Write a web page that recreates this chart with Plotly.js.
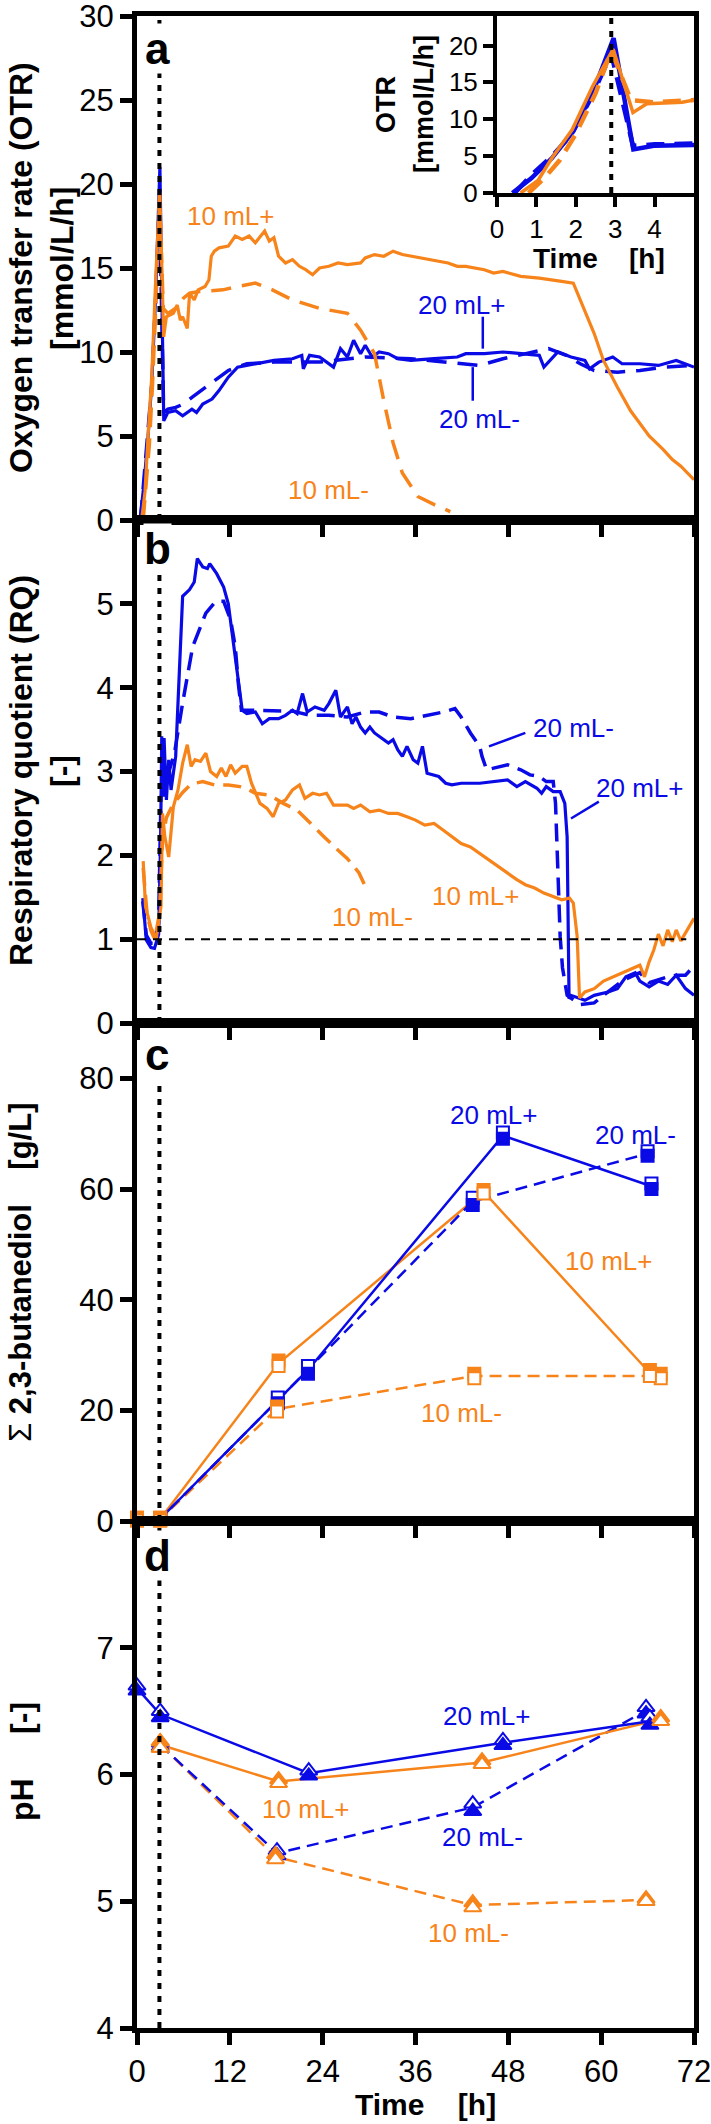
<!DOCTYPE html>
<html><head><meta charset="utf-8">
<script src="https://cdn.plot.ly/plotly-3.0.1.min.js"></script>
<style>html,body{margin:0;padding:0;background:#fff;}#chart{width:711px;height:2124px;}</style>
</head><body><div id="chart"></div>
<script>
// ---------- DATA ----------
const timeTicks = [0, 12, 24, 36, 48, 60, 72];
const insetTimeTicks = [0, 1, 2, 3, 4];

// (a) OTR [mmol/L/h]
const otr10pT = [0.6,1.04,1.39,1.91,2.43,2.95,3.45,3.8,4.7,5.2,5.6,5.9,6.5,6.8,7.4,7.9,8.8,9.3,9.6,10.0,10.6,11.8,12.7,13.6,14.5,15.3,16.5,17.1,17.7,18.3,19.2,20.1,21.0,21.8,22.7,23.6,24.8,26.0,27.2,28.9,29.5,30.7,31.9,33.1,34.3,35.4,37.8,40.2,41.4,42.5,44.9,46.1,47.3,49.6,52.0,53.2,54.9,56.4,57.3,59.1,60.3,62.1,63.8,66.2,68.0,69.2,70.3,72];
const otr10pV = [0,1.7,4.7,8.6,14.5,19.5,10.9,12.1,12.3,12.8,11.9,12.1,11.4,13.5,13.1,13.7,13.9,14.3,15.7,16.0,16.2,16.3,16.9,16.7,16.9,16.5,17.2,16.6,16.8,15.7,15.3,15.5,15.1,14.9,14.6,15.0,15.1,15.3,15.2,15.3,15.6,15.8,15.7,16.0,15.8,15.7,15.5,15.3,15.1,15.1,14.9,14.7,14.8,14.5,14.4,14.3,14.2,14.1,13.1,11.1,9.5,7.9,6.5,5.0,4.2,3.6,3.2,2.4];
const otr10mT = [0.8,1.2,1.6,2.0,2.5,2.9,3.4,4.0,5.0,6.0,6.8,8.0,11.1,13.0,15.3,17.5,20.1,23.6,27.2,28.9,30.7,31.9,33.1,34.3,36.3,38.5,40.5];
const otr10mV = [0,2.0,4.5,8.0,13.5,19.3,12.6,12.3,12.6,13.2,13.5,13.6,13.7,13.9,14.1,13.7,13.1,12.6,12.3,11.3,9.9,7.1,4.6,2.8,1.4,0.9,0.5];
const otr20pT = [0.39,0.87,1.39,1.91,2.43,2.96,3.46,3.98,5.0,5.9,7.1,7.7,8.5,9.7,10.6,11.8,13.0,14.2,15.3,17.7,20.1,21.3,21.5,22.3,23.6,25.4,26.3,27.2,28.0,28.9,29.5,30.4,31.3,32.5,33.7,35.4,38.4,41.4,42.5,44.9,47.3,49.6,52.0,52.6,54.4,56.1,57.9,58.5,59.7,61.5,62.7,65.0,67.4,69.7,70.9,72];
const otr20pV = [0,2.0,4.7,8.2,13.6,21.0,5.9,6.4,6.5,6.2,6.6,6.4,6.9,7.2,7.7,8.5,9.1,9.2,9.3,9.5,9.6,9.8,9.0,9.8,9.7,9.1,10.2,9.7,10.7,9.9,10.4,9.7,10.0,9.9,9.6,9.5,9.6,9.7,9.9,9.9,10.0,9.9,9.8,9.1,10.0,9.7,9.5,9.0,9.4,9.7,9.3,9.3,9.2,9.5,9.3,9.1];
const otr20mT = [0.45,0.9,1.4,1.9,2.4,2.9,3.45,4.0,5.0,6.0,7.1,9.4,11.8,14.2,17.7,23.6,29.5,35.4,41.4,44.3,47.3,50.2,53.2,55.5,57.3,59.1,62.1,65.0,68.0,72];
const otr20mV = [0,2.6,5.0,8.0,13.0,18.9,6.4,6.6,6.7,6.9,7.3,8.1,8.9,9.3,9.4,9.4,9.7,9.6,9.3,9.2,9.6,9.9,10.2,9.8,9.3,8.9,8.8,8.9,9.1,9.2];

// (b) RQ [-]
const rq20pT = [0.75,1.2,1.8,2.26,2.8,3.05,3.2,3.4,3.5,3.8,4.1,4.4,5.0,5.9,6.8,7.4,7.8,8.5,9.1,9.4,10.3,11.2,11.8,12.4,13.0,13.6,14.2,15.3,16.2,17.1,18.3,19.2,20.1,20.7,21.4,22.0,23.0,24.2,24.8,25.7,26.3,27.2,27.8,28.3,28.9,29.5,30.1,30.7,31.6,32.5,33.1,33.7,34.3,34.9,35.7,36.3,36.9,37.5,39.0,39.9,40.7,41.9,44.3,46.1,47.9,49.1,50.2,51.7,52.3,52.9,53.8,54.7,55.3,55.6,55.75,55.85,56.1,57.9,59.1,60.9,62.1,63.2,64.4,65.0,66.2,67.4,68.6,69.7,70.9,72];
const rq20pV = [1.49,0.99,0.9,0.89,1.06,2.2,3.42,2.7,3.4,2.66,3.14,2.78,3.18,5.09,5.17,5.26,5.54,5.44,5.42,5.48,5.36,5.2,5.0,4.57,4.13,3.73,3.69,3.71,3.57,3.63,3.63,3.67,3.73,3.69,3.93,3.71,3.77,3.73,3.81,3.97,3.65,3.77,3.57,3.65,3.53,3.46,3.53,3.46,3.40,3.34,3.38,3.26,3.18,3.30,3.14,3.10,3.30,2.98,2.94,2.86,2.84,2.86,2.86,2.88,2.90,2.82,2.88,2.80,2.74,2.82,2.76,2.76,2.62,2.22,1.03,0.29,0.33,0.27,0.33,0.37,0.41,0.55,0.6,0.5,0.43,0.5,0.46,0.57,0.41,0.33];
const rq20mT = [0.75,1.2,1.8,2.3,2.8,3.1,3.4,3.8,4.85,5.9,7.2,8.9,10.2,11.2,12.1,12.7,13.1,13.5,15.3,17.7,20.1,22.4,24.8,27.2,29.5,31.3,33.1,35.4,37.8,39.6,41.1,41.9,43.1,44.3,44.6,45.2,46.1,47.9,49.6,50.8,52.0,52.9,53.8,54.1,54.4,54.7,55.0,55.6,57.3,59.1,60.3,61.5,62.7,63.8,65.0,66.2,67.4,68.6,69.7,70.9,72];
const rq20mV = [1.45,1.05,0.95,0.95,1.2,2.7,2.75,2.9,3.22,3.82,4.49,4.89,5.03,5.03,4.81,4.49,4.05,3.73,3.73,3.73,3.72,3.67,3.67,3.65,3.71,3.71,3.65,3.63,3.67,3.71,3.75,3.65,3.46,3.30,3.18,3.02,3.04,3.08,3.02,2.96,2.94,2.88,2.88,2.62,1.83,1.03,0.66,0.33,0.22,0.24,0.33,0.42,0.5,0.55,0.6,0.48,0.52,0.55,0.57,0.57,0.68];
const rq10pT = [0.8,1.1,1.8,2.5,3.1,3.3,3.6,4.1,4.7,5.3,5.9,6.5,7.0,7.5,8.2,8.9,9.5,10.3,10.9,11.5,12.1,12.7,13.6,14.2,14.8,15.9,16.8,17.6,18.3,19.2,20.1,21.0,21.7,22.7,23.6,24.5,25.4,27.2,28.0,28.9,30.1,31.3,32.5,33.7,34.9,36.0,37.2,38.4,39.6,40.7,41.9,43.1,44.3,45.5,46.7,47.9,49.1,50.2,51.4,52.6,53.8,54.9,55.9,56.4,56.9,57.2,57.9,59.1,60.3,61.5,62.7,63.8,65.0,65.6,66.2,66.8,67.4,68.0,68.6,69.2,69.7,70.3,71.2,72];
const rq10pV = [1.93,1.39,1.14,1.01,1.39,2.5,2.22,1.98,2.58,2.78,3.10,3.32,3.06,3.14,3.12,3.22,3.00,2.94,3.04,2.94,3.08,2.98,3.06,3.06,2.86,2.62,2.56,2.46,2.62,2.66,2.78,2.84,2.68,2.74,2.72,2.74,2.60,2.60,2.56,2.60,2.52,2.54,2.50,2.50,2.46,2.42,2.36,2.38,2.30,2.22,2.14,2.10,2.02,1.94,1.86,1.79,1.71,1.65,1.61,1.55,1.51,1.47,1.49,1.43,1.03,0.30,0.37,0.41,0.50,0.55,0.60,0.64,0.69,0.55,0.73,0.87,1.06,0.92,1.11,0.97,1.11,0.98,1.12,1.25];
const rq10mT = [0.8,1.3,1.8,2.3,2.9,3.3,3.8,4.6,5.9,7.0,8.5,10.0,11.8,13.3,14.5,15.3,17.1,18.9,20.7,22.4,24.2,26.0,27.2,28.7,29.5];
const rq10mV = [1.85,1.3,1.1,1.0,1.3,2.2,2.45,2.6,2.75,2.85,2.88,2.84,2.84,2.82,2.78,2.74,2.72,2.62,2.54,2.38,2.22,2.06,1.96,1.79,1.63];

// (c) sum 2,3-butanediol [g/L]  (two markers per sample: open / filled)
const bdo20pT = [0, 3, 22.1, 47.3, 66.5];
const bdo20pOpen = [0.3, 0.5, 28.0, 70.2, 61.0];
const bdo20pFill = [0.2, 0.3, 26.6, 69.1, 60.0];
const bdo20mT = [0, 3, 18.2, 43.4, 66.0];
const bdo20mOpen = [0.3, 0.5, 22.3, 58.4, 66.8];
const bdo20mFill = [0.2, 0.3, 21.3, 57.1, 66.0];
const bdo10pT = [0, 3, 18.3, 44.8, 66.3];
const bdo10pFill = [0.6, 0.6, 29.0, 59.8, 27.3];
const bdo10pOpen = [0.1, 0.1, 28.0, 59.2, 26.2];
const bdo10mT = [0, 3, 18.1, 43.6, 67.7];
const bdo10mFill = [0.6, 0.6, 20.7, 26.6, 26.6];
const bdo10mOpen = [0.1, 0.1, 19.8, 25.8, 25.8];

// (d) pH [-]
const ph20pT = [0, 3, 22.2, 47.3, 66.3];
const ph20pOpen = [6.70, 6.50, 6.03, 6.27, 6.45];
const ph20pFill = [6.66, 6.45, 5.99, 6.23, 6.39];
const ph20mT = [3, 18.1, 43.4, 65.8];
const ph20mOpen = [6.25, 5.40, 5.77, 6.53];
const ph20mFill = [6.22, 5.36, 5.71, 6.48];
const ph10pT = [3, 18.3, 44.6, 67.7];
const ph10pFill = [6.26, 5.96, 6.11, 6.45];
const ph10pOpen = [6.21, 5.93, 6.08, 6.42];
const ph10mT = [3, 17.9, 43.4, 65.8];
const ph10mFill = [6.26, 5.37, 4.99, 5.02];
const ph10mOpen = [6.21, 5.33, 4.95, 5.00];

const inductionTime = 2.9;

// ---------- STYLE / LAYOUT ----------
const BLUE = '#0a0ae6', ORANGE = '#f7841a';
const FONT = 'Liberation Sans, Arial, sans-serif';
const TICK_SIZE = 31, INSET_TICK = 26, LABEL_SIZE = 26;

const W = 711, H = 2124;
const M = {l: 137, r: 17, t: 16, b: 96};
const PW = W - M.l - M.r, PH = H - M.t - M.b;
const px = v => (v - M.l) / PW;
const py = v => (H - M.b - v) / PH;

const mean = (a, b) => a.map((v, i) => (v + b[i]) / 2);

const traces = [];
function addLine(x, y, xa, ya, color, dash, width) {
  traces.push({x, y, xaxis: xa, yaxis: ya, type: 'scatter', mode: 'lines',
    line: {color, width, dash: dash || 'solid'}, hoverinfo: 'skip', showlegend: false});
}
function addMarkers(x, y, xa, ya, color, symbol, open, size) {
  traces.push({x, y, xaxis: xa, yaxis: ya, type: 'scatter', mode: 'markers', cliponaxis: false,
    marker: {symbol, size, color: open ? '#ffffff' : color, line: {color, width: 2}},
    hoverinfo: 'skip', showlegend: false});
}

// panel a (main) + inset
const dA = '20px,11px', dB = '18px,9px', dC = '12px,7px';
addLine(otr20mT, otr20mV, 'x', 'y', BLUE, dA, 3.5);
addLine(otr20pT, otr20pV, 'x', 'y', BLUE, 'solid', 3.2);
addLine(otr10mT, otr10mV, 'x', 'y', ORANGE, dA, 3.5);
addLine(otr10pT, otr10pV, 'x', 'y', ORANGE, 'solid', 3.2);
addLine(otr20mT, otr20mV, 'x5', 'y5', BLUE, '18px,10px', 4.5);
addLine(otr20pT, otr20pV, 'x5', 'y5', BLUE, 'solid', 4.5);
addLine(otr10mT, otr10mV, 'x5', 'y5', ORANGE, '18px,10px', 4.5);
addLine(otr10pT, otr10pV, 'x5', 'y5', ORANGE, 'solid', 3.5);

// panel b
addLine(rq20mT, rq20mV, 'x2', 'y2', BLUE, dB, 3.5);
addLine(rq20pT, rq20pV, 'x2', 'y2', BLUE, 'solid', 3.2);
addLine(rq10mT, rq10mV, 'x2', 'y2', ORANGE, dB, 3.5);
addLine(rq10pT, rq10pV, 'x2', 'y2', ORANGE, 'solid', 3.2);

// panel c
addLine(bdo10mT, mean(bdo10mFill, bdo10mOpen), 'x3', 'y3', ORANGE, dC, 2.5);
addLine(bdo10pT, mean(bdo10pFill, bdo10pOpen), 'x3', 'y3', ORANGE, 'solid', 2.5);
addLine(bdo20mT, mean(bdo20mFill, bdo20mOpen), 'x3', 'y3', BLUE, dC, 2.5);
addLine(bdo20pT, mean(bdo20pFill, bdo20pOpen), 'x3', 'y3', BLUE, 'solid', 2.5);
addMarkers(bdo20mT, bdo20mOpen, 'x3', 'y3', BLUE, 'square', true, 12);
addMarkers(bdo20mT, bdo20mFill, 'x3', 'y3', BLUE, 'square', false, 12);
addMarkers(bdo20pT, bdo20pOpen, 'x3', 'y3', BLUE, 'square', true, 12);
addMarkers(bdo20pT, bdo20pFill, 'x3', 'y3', BLUE, 'square', false, 12);
addMarkers(bdo10mT, bdo10mFill, 'x3', 'y3', ORANGE, 'square', false, 12);
addMarkers(bdo10mT, bdo10mOpen, 'x3', 'y3', ORANGE, 'square', true, 12);
addMarkers(bdo10pT, bdo10pFill, 'x3', 'y3', ORANGE, 'square', false, 12);
addMarkers(bdo10pT, bdo10pOpen, 'x3', 'y3', ORANGE, 'square', true, 12);

// panel d
addLine(ph10mT, mean(ph10mFill, ph10mOpen), 'x4', 'y4', ORANGE, dC, 2.5);
addLine(ph20mT, mean(ph20mFill, ph20mOpen), 'x4', 'y4', BLUE, dC, 2.5);
addLine(ph10pT, mean(ph10pFill, ph10pOpen), 'x4', 'y4', ORANGE, 'solid', 2.5);
addLine(ph20pT, mean(ph20pFill, ph20pOpen), 'x4', 'y4', BLUE, 'solid', 2.5);
addMarkers(ph20mT, ph20mOpen, 'x4', 'y4', BLUE, 'triangle-up', true, 15);
addMarkers(ph20mT, ph20mFill, 'x4', 'y4', BLUE, 'triangle-up', false, 15);
addMarkers(ph20pT, ph20pOpen, 'x4', 'y4', BLUE, 'triangle-up', true, 15);
addMarkers(ph20pT, ph20pFill, 'x4', 'y4', BLUE, 'triangle-up', false, 15);
addMarkers(ph10mT, ph10mFill, 'x4', 'y4', ORANGE, 'triangle-up', false, 15);
addMarkers(ph10mT, ph10mOpen, 'x4', 'y4', ORANGE, 'triangle-up', true, 15);
addMarkers(ph10pT, ph10pFill, 'x4', 'y4', ORANGE, 'triangle-up', false, 15);
addMarkers(ph10pT, ph10pOpen, 'x4', 'y4', ORANGE, 'triangle-up', true, 15);

const doms = {a: [py(520), 1], b: [py(1023), py(520)], c: [py(1521), py(1023)], d: [0, py(1521)]};
const tickFont = {family: FONT, size: TICK_SIZE, color: '#000'};
const common = {ticks: 'outside', tickcolor: '#000', showline: true, linecolor: '#000', mirror: true,
  showgrid: false, zeroline: false, fixedrange: true, ticklabeloverflow: 'allow', tickmode: 'array'};
function xax(anchor, labels) {
  return Object.assign({}, common, {domain: [0, 1], anchor, range: [0, 72], tickvals: timeTicks,
    showticklabels: labels, ticklen: 12, tickwidth: 5, linewidth: 5, tickfont: tickFont});
}
function yax(anchor, dom, range, tv) {
  return Object.assign({}, common, {domain: dom, anchor, range, tickvals: tv,
    ticklen: 12, tickwidth: 5, linewidth: 5, tickfont: tickFont});
}

const layout = {
  width: W, height: H, margin: M, paper_bgcolor: '#fff', plot_bgcolor: '#fff', showlegend: false,
  font: {family: FONT, color: '#000'},
  xaxis: xax('y', false), yaxis: yax('x', doms.a, [0, 30], [0, 5, 10, 15, 20, 25, 30]),
  xaxis2: xax('y2', false), yaxis2: yax('x2', doms.b, [0, 6], [0, 1, 2, 3, 4, 5]),
  xaxis3: xax('y3', false), yaxis3: yax('x3', doms.c, [0, 90], [0, 20, 40, 60, 80]),
  xaxis4: xax('y4', true), yaxis4: yax('x4', doms.d, [4, 8], [4, 5, 6, 7]),
  xaxis5: Object.assign({}, common, {domain: [px(497), 1], anchor: 'y5', range: [0, 5], tickvals: insetTimeTicks,
    ticklen: 10, tickwidth: 4, linewidth: 4, tickfont: {family: FONT, size: INSET_TICK, color: '#000'}}),
  yaxis5: Object.assign({}, common, {domain: [py(193), 1], anchor: 'x5', range: [0, 24], tickvals: [0, 5, 10, 15, 20],
    ticklen: 10, tickwidth: 4, linewidth: 4, tickfont: {family: FONT, size: INSET_TICK, color: '#000'}}),
  shapes: [], annotations: []
};

// vertical dotted induction line in every panel
[['x', 'y'], ['x2', 'y2'], ['x3', 'y3'], ['x4', 'y4'], ['x5', 'y5']].forEach(([xa, ya]) => {
  layout.shapes.push({type: 'line', xref: xa, yref: ya + ' domain', x0: inductionTime, x1: inductionTime,
    y0: 0, y1: 1, line: {color: '#000', width: 4, dash: '6px,7px'}});
});
// RQ = 1 reference
layout.shapes.push({type: 'line', xref: 'x2', yref: 'y2', x0: 0, x1: 71, y0: 1, y1: 1,
  line: {color: '#000', width: 2, dash: '9px,7px'}});

// leader lines for labels
const leaders = [
  ['x', 'y', 44.7, 12.1, 44.7, 10.2], ['x', 'y', 43.4, 9.1, 43.4, 7.1],
  ['x2', 'y2', 45.5, 3.30, 50.2, 3.46], ['x2', 'y2', 56.1, 2.44, 59.7, 2.64]
];
leaders.forEach(([xa, ya, x0, y0, x1, y1]) => layout.shapes.push({type: 'line', xref: xa, yref: ya,
  x0, y0, x1, y1, line: {color: BLUE, width: 2.5}}));

// series labels
const labelFont = c => ({family: FONT, size: LABEL_SIZE, color: c});
const seriesLabels = [
  ['x', 'y', 12.1, 18.1, '10 mL+', ORANGE], ['x', 'y', 41.9, 12.8, '20 mL+', BLUE],
  ['x', 'y', 44.3, 6.0, '20 mL-', BLUE], ['x', 'y', 24.8, 1.8, '10 mL-', ORANGE],
  ['x2', 'y2', 56.4, 3.52, '20 mL-', BLUE], ['x2', 'y2', 65.0, 2.80, '20 mL+', BLUE],
  ['x2', 'y2', 43.7, 1.51, '10 mL+', ORANGE], ['x2', 'y2', 30.4, 1.27, '10 mL-', ORANGE],
  ['x3', 'y3', 46.1, 73.3, '20 mL+', BLUE], ['x3', 'y3', 64.4, 69.8, '20 mL-', BLUE],
  ['x3', 'y3', 60.9, 47.0, '10 mL+', ORANGE], ['x3', 'y3', 41.9, 19.5, '10 mL-', ORANGE],
  ['x4', 'y4', 45.2, 6.46, '20 mL+', BLUE], ['x4', 'y4', 21.8, 5.73, '10 mL+', ORANGE],
  ['x4', 'y4', 44.6, 5.51, '20 mL-', BLUE], ['x4', 'y4', 42.8, 4.75, '10 mL-', ORANGE]
];
seriesLabels.forEach(([xa, ya, x, y, text, c]) => layout.annotations.push({xref: xa, yref: ya, x, y, text,
  showarrow: false, font: labelFont(c), xanchor: 'center', yanchor: 'middle'}));

// panel letters
[['a', 49], ['b', 548], ['c', 1054], ['d', 1555]].forEach(([t, yc]) => layout.annotations.push({
  xref: 'paper', yref: 'paper', x: px(157), y: py(yc), text: '<b>' + t + '</b>', showarrow: false,
  font: {family: FONT, size: 44, color: '#000'}, bgcolor: '#fff', xanchor: 'center', yanchor: 'middle', borderpad: 0}));

// axis titles
const NB = '\u00a0';
const titles = [
  [21, 268, '<b>Oxygen transfer rate (OTR)</b>', 32], [62, 268, '<b>[mmol/L/h]</b>', 32],
  [21, 771, '<b>Respiratory quotient (RQ)</b>', 32], [62, 771, '<b>[-]</b>', 32],
  [20, 1272, 'Σ <b>2,3-butanediol' + NB.repeat(4) + '[g/L]</b>', 31],
  [22, 1762, '<b>pH' + NB.repeat(5) + '[-]</b>', 32],
  [386, 105, '<b>OTR</b>', 27], [424, 104, '<b>[mmol/L/h]</b>', 27]
];
titles.forEach(([x, y, text, s]) => layout.annotations.push({xref: 'paper', yref: 'paper', x: px(x), y: py(y),
  text, textangle: -90, showarrow: false, font: {family: FONT, size: s, color: '#000'},
  xanchor: 'center', yanchor: 'middle'}));
layout.annotations.push({xref: 'paper', yref: 'paper', x: px(425), y: py(2104),
  text: '<b>Time' + NB.repeat(4) + '[h]</b>', showarrow: false, font: {family: FONT, size: 30, color: '#000'},
  xanchor: 'center', yanchor: 'middle'});
layout.annotations.push({xref: 'paper', yref: 'paper', x: px(599), y: py(258),
  text: '<b>Time' + NB.repeat(4) + '[h]</b>', showarrow: false, font: {family: FONT, size: 28, color: '#000'},
  xanchor: 'center', yanchor: 'middle'});

Plotly.newPlot('chart', traces, layout, {staticPlot: true, displayModeBar: false});
</script></body></html>
